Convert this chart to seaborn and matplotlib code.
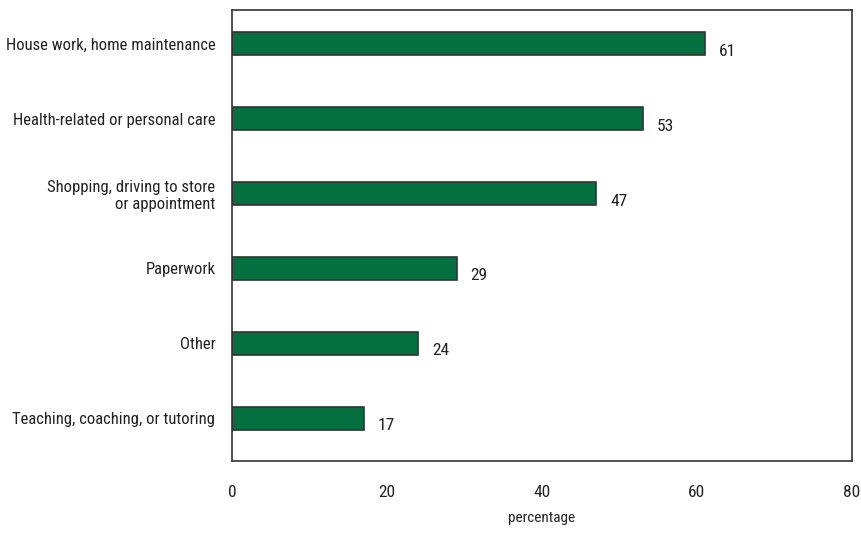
import matplotlib
matplotlib.use("Agg")
import matplotlib.pyplot as plt
import seaborn as sns
import pandas as pd

# data
categories = [
    "House work, home maintenance",
    "Health-related or personal care",
    "Shopping, driving to store\nor appointment",
    "Paperwork",
    "Other",
    "Teaching, coaching, or tutoring",
]
values = [61, 53, 47, 29, 24, 17]
xticks = [0, 20, 40, 60, 80]

df = pd.DataFrame({"activity": categories, "pct": values})

sns.set_style("white")
plt.rcParams["font.family"] = ["Roboto Condensed", "DejaVu Sans"]
plt.rcParams["font.stretch"] = "condensed"

fig = plt.figure(figsize=(8.61, 5.46), dpi=100)
ax = fig.add_axes([0.2695, 0.1557, 0.72, 0.826])

sns.barplot(data=df, x="pct", y="activity", orient="h", color="#047040",
            saturation=1, width=0.3, edgecolor="#333333", linewidth=1.2, ax=ax)

for i, v in enumerate(values):
    ax.text(v + 1.8, i + 0.1, str(v), va="center", ha="left", fontsize=12.5, color="#222222")

ax.set_xlim(0, 80)
ax.set_ylim(5.57, -0.45)
ax.set_xticks(xticks)
ax.tick_params(axis="x", direction="in", length=6, width=1, pad=17, labelsize=12.5, colors="#222222")
ax.tick_params(axis="y", length=0, pad=12, labelsize=12, colors="#222222")
ax.set_xlabel("percentage", fontsize=11, labelpad=8, color="#222222")
ax.set_ylabel("")
for s in ax.spines.values():
    s.set_visible(True)
    s.set_color("#333333")
    s.set_linewidth(1.2)

fig.savefig("out.png", dpi=100)
